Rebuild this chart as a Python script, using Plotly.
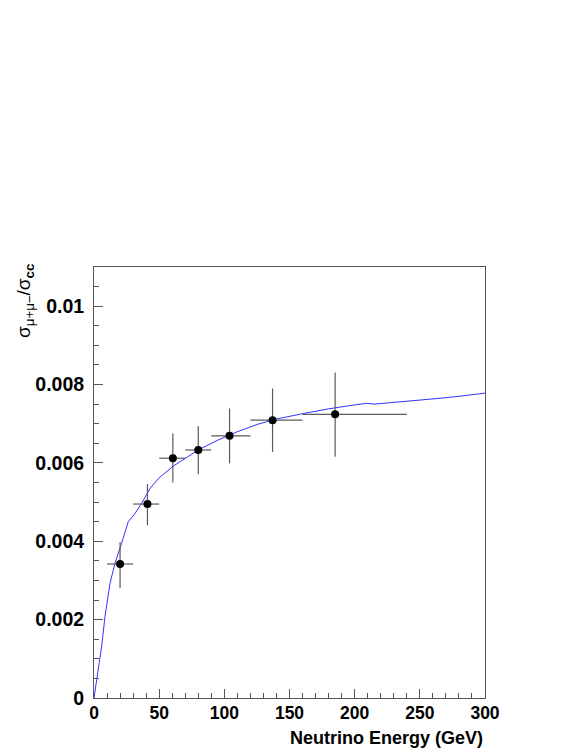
import plotly.graph_objects as go

# measured points
energy = [20, 41, 60.5, 80, 104, 137, 185]
ratio = [0.00342, 0.00495, 0.00612, 0.00633, 0.00669, 0.00709, 0.00724]
e_lo = [10, 30, 50, 70, 90, 120, 160]
e_hi = [30, 50, 70, 90, 120, 160, 240]
r_up = [0.00398, 0.00546, 0.00675, 0.00694, 0.00739, 0.00790, 0.00831]
r_dn = [0.00281, 0.00441, 0.00550, 0.00571, 0.00599, 0.00628, 0.00616]

# prediction curve
curve_x = [0, 2, 4, 6, 8.4, 12.3, 16.1, 21.2, 26.3, 31.5, 36.6, 43, 50, 60.9, 70, 80,
           95, 109.5, 125, 140, 160.6, 180, 200, 209, 215, 230, 250, 265.5, 280, 298.7, 300]
curve_y = [0, 0.0004, 0.0009, 0.00135, 0.00207, 0.00293, 0.00344, 0.00395, 0.0045, 0.00471,
           0.00497, 0.00535, 0.00562, 0.00592, 0.00612, 0.00633, 0.00658, 0.00679, 0.00698,
           0.00712, 0.00726, 0.00738, 0.00748, 0.00752, 0.00750, 0.00754, 0.00760, 0.00765,
           0.00770, 0.00777, 0.00778]

ytick_vals = [0, 0.002, 0.004, 0.006, 0.008, 0.01]
ytick_text = ["0", "0.002", "0.004", "0.006", "0.008", "0.01"]
xtick_vals = [0, 50, 100, 150, 200, 250, 300]

err_x_plus = [h - x for h, x in zip(e_hi, energy)]
err_x_minus = [x - l for l, x in zip(e_lo, energy)]
err_y_plus = [u - y for u, y in zip(r_up, ratio)]
err_y_minus = [y - d for d, y in zip(r_dn, ratio)]

fig = go.Figure()

fig.add_trace(go.Scatter(x=curve_x, y=curve_y, mode="lines",
                         line=dict(color="rgb(50,50,255)", width=1)))

fig.add_trace(go.Scatter(
    x=energy, y=ratio, mode="markers",
    marker=dict(color="black", size=8),
    error_x=dict(type="data", symmetric=False, array=err_x_plus, arrayminus=err_x_minus,
                 color="rgb(90,90,90)", thickness=1.2, width=0),
    error_y=dict(type="data", symmetric=False, array=err_y_plus, arrayminus=err_y_minus,
                 color="rgb(90,90,90)", thickness=1.2, width=0),
))

yfont = dict(family="Liberation Sans", size=19.5, color="black", weight="bold")
xfont = dict(family="Liberation Sans", size=17.5, color="black", weight="bold")

# page body has an 8px margin, so the figure is a bit smaller than the window
fig.update_layout(
    width=573, height=744,
    margin=dict(l=86, r=96, t=259, b=54),
    plot_bgcolor="white", paper_bgcolor="white",
    showlegend=False,
    xaxis=dict(range=[0, 300], tickvals=xtick_vals, ticks="inside", ticklen=9,
               tickcolor="#555", showline=True, linecolor="#555", linewidth=1, mirror=True,
               showgrid=False, zeroline=False, tickfont=xfont, ticklabelstandoff=-1,
               minor=dict(dtick=10, ticks="inside", ticklen=5, tickcolor="#555")),
    yaxis=dict(range=[0, 0.011], tickvals=ytick_vals, ticktext=ytick_text, ticks="inside",
               ticklen=9, tickcolor="#555", showline=True, linecolor="#555", linewidth=1,
               mirror=True, showgrid=False, zeroline=False, tickfont=yfont,
               ticklabelstandoff=5,
               minor=dict(tickvals=[i * 0.0005 for i in range(23)], ticks="inside",
                          ticklen=5, tickcolor="#555")),
    annotations=[
        dict(text="Neutrino Energy (GeV)", x=1, y=0, xref="paper", yref="paper",
             xanchor="right", yanchor="top", yshift=-28, showarrow=False,
             font=dict(family="Liberation Sans", size=18, color="black", weight="bold")),
        dict(text="σ<sub>μ+μ−</sub>/σ<sub><b>cc</b></sub>", x=0, y=1, xref="paper", yref="paper",
             xanchor="right", yanchor="top", xshift=-55, yshift=5, textangle=-90,
             showarrow=False,
             font=dict(family="Liberation Sans", size=19, color="black")),
    ],
)

fig.write_html("out.html")
